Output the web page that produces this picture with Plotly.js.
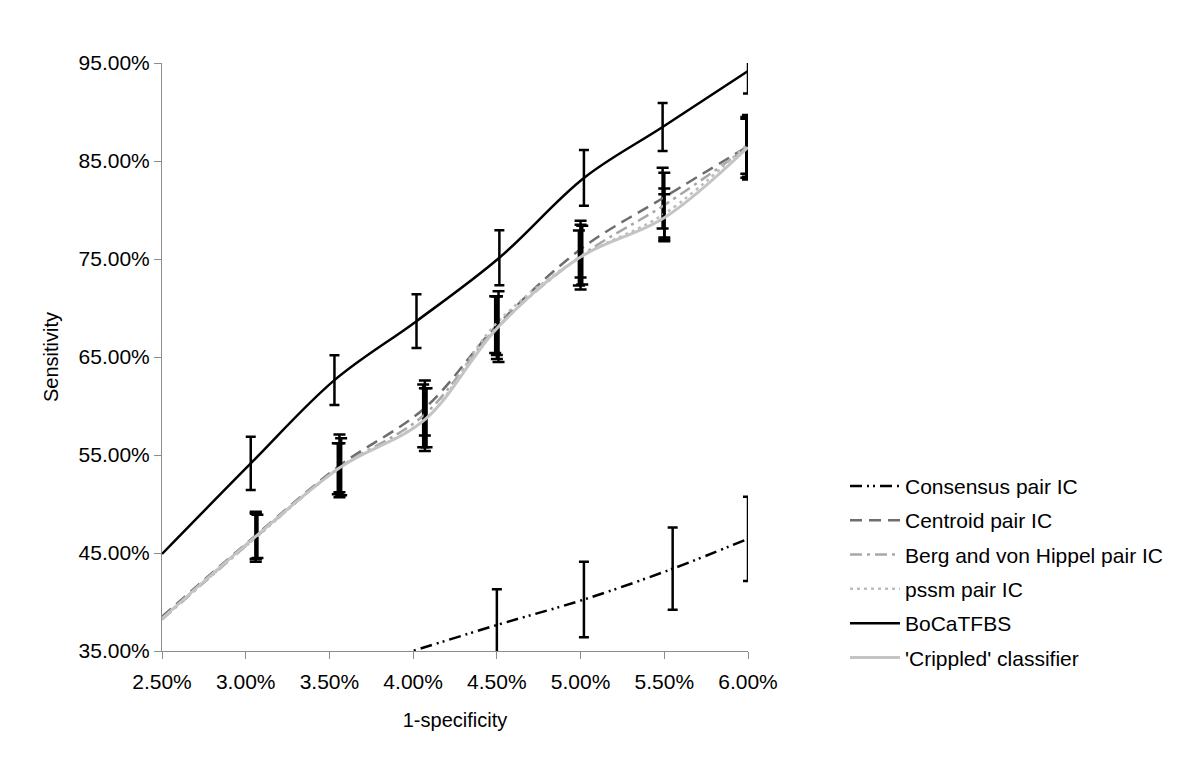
<!DOCTYPE html>
<html>
<head>
<meta charset="utf-8">
<script src="https://cdn.plot.ly/plotly-3.0.1.min.js"></script>
<style>
  body { margin: 0; background: #fff; }
  #chart { width: 1200px; height: 770px; }
</style>
</head>
<body>
<div id="chart"></div>
<script>
"use strict";

// values, in percent
const seriesNames = ["Consensus pair IC", "Centroid pair IC", "Berg and von Hippel pair IC",
  "pssm pair IC", "BoCaTFBS", "'Crippled' classifier"];

const consensusX = [3.53, 4.50, 5.02, 5.55, 6.00];
const consensusY = [32.5, 37.65, 40.25, 43.4, 46.45];
const consensusErr = [NaN, 3.65, 3.85, 4.2, 4.3];

const centroidX = [2.5, 3.06, 3.56, 4.07, 4.50, 5.00, 5.49, 6.00];
const centroidY = [38.5, 46.8, 53.9, 59.8, 68.2, 76.0, 81.2, 86.5];
const centroidErr = [NaN, 2.4, 3.2, 2.8, 3.0, 2.9, 3.1, 3.1];

const bergX = [2.5, 3.06, 3.55, 4.06, 4.50, 5.01, 5.50, 5.99];
const bergY = [38.2, 46.6, 53.6, 59.0, 68.0, 75.4, 80.5, 86.3];
const bergErr = [NaN, 2.5, 2.6, 3.2, 3.2, 3.0, 3.3, 3.0];

const pssmX = [2.5, 3.07, 3.56, 4.08, 4.49, 4.99, 5.50, 5.99];
const pssmY = [38.3, 46.7, 53.7, 58.8, 68.3, 75.1, 79.6, 86.6];
const pssmErr = [NaN, 2.2, 2.5, 3.0, 2.9, 2.8, 2.6, 2.9];

const bocaX = [2.5, 3.03, 3.53, 4.02, 4.515, 5.02, 5.49, 6.00];
const bocaY = [44.9, 54.14, 62.64, 68.66, 75.13, 83.27, 88.47, 94.18];
const bocaErr = [NaN, 2.72, 2.55, 2.74, 2.8, 2.84, 2.45, 2.3];

const crippledX = [2.5, 3.06, 3.57, 4.07, 4.51, 5.00, 5.50, 6.00];
const crippledY = [38.3, 46.7, 53.8, 58.6, 68.1, 75.2, 79.2, 86.4];
const crippledErr = [NaN, 2.3, 2.9, 3.2, 3.6, 3.3, 2.4, 3.3];

const font = "Liberation Sans, Arial, sans-serif";

function errBar(arr, w) {
  return {type: "data", array: arr, visible: true, color: "#000", thickness: 2.5, width: w};
}

function makeTrace(i, xs, ys, errs, line, capW) {
  return {
    x: xs, y: ys,
    name: seriesNames[i],
    legendgroup: "g" + i,
    type: "scatter",
    mode: "lines",
    line: Object.assign({shape: "spline", smoothing: 1}, line),
    error_y: errBar(errs, capW),
    hoverinfo: "skip",
  };
}

const data = [
  makeTrace(0, consensusX, consensusY, consensusErr, {color: "#000", width: 2.5, dash: "12px,5px,2px,4px,2px,5px"}, 5),
  makeTrace(1, centroidX, centroidY, centroidErr, {color: "#6e6e6e", width: 2.5, dash: "12px,7px"}, 6),
  makeTrace(2, bergX, bergY, bergErr, {color: "#a8a8a8", width: 2.5, dash: "12px,5px,3px,5px"}, 6),
  makeTrace(3, pssmX, pssmY, pssmErr, {color: "#bdbdbd", width: 2.5, dash: "3px,4px"}, 6),
  makeTrace(4, bocaX, bocaY, bocaErr, {color: "#000", width: 2.5}, 5),
  makeTrace(5, crippledX, crippledY, crippledErr, {color: "#c4c4c4", width: 3}, 6),
];

const axisStyle = {
  showline: true, linecolor: "#8c8c8c", linewidth: 1,
  ticks: "outside", ticklen: 7, tickcolor: "#8c8c8c",
  showgrid: false, zeroline: false,
  tickformat: ".2f", ticksuffix: "%",
  tickfont: {family: font, size: 21, color: "#000"},
};

const layout = {
  width: 1200, height: 770,
  margin: {l: 162, r: 452, t: 63, b: 119},
  paper_bgcolor: "#fff", plot_bgcolor: "#fff",
  font: {family: font, size: 21, color: "#000"},
  xaxis: Object.assign({}, axisStyle, {
    range: [2.5, 6.0], tick0: 2.5, dtick: 0.5,
    ticklabelstandoff: 5,
    title: {text: "1-specificity", font: {family: font, size: 20, color: "#000"}, standoff: 20},
  }),
  yaxis: Object.assign({}, axisStyle, {
    range: [35, 95], tick0: 35, dtick: 10,
    title: {text: "Sensitivity", font: {family: font, size: 20, color: "#000"}, standoff: 14},
  }),
  legend: {
    x: 1.1655, y: 0.315, xanchor: "left", yanchor: "top",
    font: {family: font, size: 21, color: "#000"},
    bgcolor: "rgba(0,0,0,0)", tracegroupgap: 4, itemwidth: 50,
  },
  showlegend: true,
};

Plotly.newPlot("chart", data, layout, {staticPlot: true});
</script>
</body>
</html>
